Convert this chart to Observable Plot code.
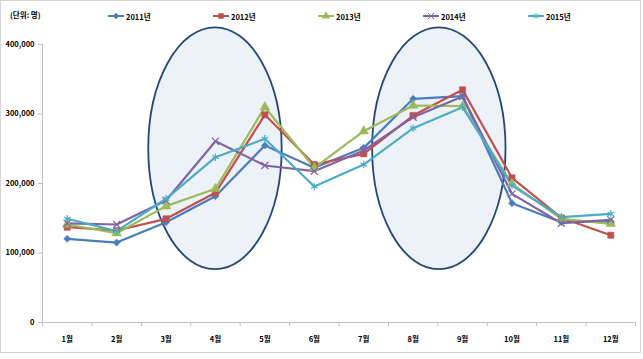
<!DOCTYPE html>
<html>
<head>
<meta charset="utf-8">
<script src="https://cdn.jsdelivr.net/npm/d3@7"></script>
<script src="https://cdn.jsdelivr.net/npm/@observablehq/plot@0.6"></script>
<style>
  html, body { margin: 0; padding: 0; background: #fff; }
  #wrap { position: relative; width: 643px; height: 359px; overflow: hidden; font-family: 'Noto Sans CJK KR', sans-serif; }
  #frame { position: absolute; left: 0; top: 0; width: 639px; height: 351px; border: 1.5px solid #d4d4d4; box-sizing: content-box; pointer-events: none; }
  #chart { position: absolute; left: 0; top: 0; }
  #unit { position: absolute; left: 10px; top: 9px; font-size: 7.5px; font-weight: bold; color: #000; white-space: nowrap; }
  .leg { position: absolute; top: 9px; height: 14px; display: flex; align-items: center; font-size: 7.5px; font-weight: bold; white-space: nowrap; }
  .leg svg { margin-right: 2px; }
  g[aria-label="y-axis tick"] { stroke: #bfbfbf; }
  g[aria-label="y-axis"] .tick line { stroke: #bfbfbf; }
</style>
</head>
<body>
<div id="wrap">
  <div id="chart"></div>
  <div id="unit">(단위: 명)</div>
  <div id="legend"></div>
  <div id="frame"></div>
</div>
<script>
const months = ["1월","2월","3월","4월","5월","6월","7월","8월","9월","10월","11월","12월"];
const years = ["2011년","2012년","2013년","2014년","2015년"];
const v2011 = [120400, 115000, 144300, 181700, 254700, 222600, 251300, 321900, 325600, 171700, 144300, 145300];
const v2012 = [137100, 132400, 149200, 186600, 298800, 227300, 242700, 297800, 334800, 208200, 150600, 125600];
const v2013 = [141000, 128500, 167400, 192400, 309800, 222600, 275300, 312200, 311300, 199600, 149200, 142000];
const v2014 = [142500, 141000, 175500, 260900, 225900, 217700, 247500, 295400, 325200, 185100, 142900, 147800];
const v2015 = [149200, 131400, 178000, 237900, 264300, 195700, 227300, 279600, 309800, 197100, 151500, 156400];
const yTicks = [0, 100000, 200000, 300000, 400000];
// highlighted periods (ellipse annotations): centre month, centre value, half-width in months, half-height in value
const highlightCenters = [4, 8.53];
const highlightValue = 250000;
const highlightHalfMonths = 1.35;
const highlightHalfValue = 174000;

const series = [v2011, v2012, v2013, v2014, v2015];
const colors = ["#4A7DBB", "#C0504D", "#9BBB59", "#8064A2", "#4BACC6"];
const symbols = ["diamond2", "square", "triangle", "times", "asterisk"];
const d3symbols = [d3.symbolDiamond2, d3.symbolSquare, d3.symbolTriangle, d3.symbolTimes, d3.symbolAsterisk];
const filled = [true, true, true, false, false];
const radii = [3.2, 3.5, 3.6, 3.3, 3.5];

const rows = [];
series.forEach((vals, s) => vals.forEach((v, i) => rows.push({m: i + 1, value: v, year: years[s]})));

const ellipseMark = (index, scales) => {
  const g = d3.create("svg:g");
  for (const c of highlightCenters) {
    const cx = scales.x(c), cy = scales.y(highlightValue);
    const rx = Math.abs(scales.x(c + highlightHalfMonths) - cx);
    const ry = Math.abs(scales.y(highlightValue + highlightHalfValue) - cy);
    g.append("ellipse").attr("cx", cx).attr("cy", cy).attr("rx", rx).attr("ry", ry)
      .attr("fill", "#EDF2F9").attr("stroke", "#24477A").attr("stroke-width", 1.8);
  }
  return g.node();
};

const bounds = d3.range(0.5, 13, 1);

const marks = [
  ellipseMark,
  Plot.ruleY([0], {stroke: "#bfbfbf"}),
  Plot.ruleX([0.5], {stroke: "#bfbfbf"}),
  Plot.ruleX(bounds, {y1: 0, y2: 0, insetBottom: -4, stroke: "#bfbfbf"})
];
years.forEach((yr, s) => {
  const data = rows.filter(r => r.year === yr);
  marks.push(Plot.line(data, {x: "m", y: "value", stroke: colors[s], strokeWidth: 2.2}));
});
years.forEach((yr, s) => {
  const data = rows.filter(r => r.year === yr);
  marks.push(Plot.dot(data, {
    x: "m", y: "value", symbol: () => symbols[s], r: radii[s],
    fill: filled[s] ? colors[s] : "none",
    stroke: colors[s], strokeWidth: filled[s] ? 0.5 : 1.2
  }));
});

const chart = Plot.plot({
  width: 643,
  height: 359,
  marginTop: 44,
  marginBottom: 37,
  marginLeft: 42,
  marginRight: 8,
  style: {fontFamily: "'Noto Sans CJK KR', sans-serif", fontSize: "7.5px", fontWeight: "bold", background: "transparent", color: "#000"},
  symbol: {type: "identity"},
  x: {type: "linear", domain: [0.5, 12.5], ticks: d3.range(1, 13), tickFormat: d => months[d - 1], tickSize: 0, tickPadding: 14, label: null},
  y: {domain: [0, 400000], ticks: yTicks, tickFormat: d3.format(","), tickSize: 4, tickPadding: 4, label: null},
  marks
});
document.getElementById("chart").appendChild(chart);

// legend
const legX = [88, 193, 298, 403, 508];
const legend = document.getElementById("legend");
years.forEach((yr, s) => {
  const div = document.createElement("div");
  div.className = "leg";
  div.style.left = (legX[s] + 20) + "px";
  const sv = d3.create("svg").attr("width", 16).attr("height", 10);
  sv.append("line").attr("x1", 0).attr("x2", 16).attr("y1", 5).attr("y2", 5).attr("stroke", colors[s]).attr("stroke-width", 2);
  sv.append("path").attr("d", d3.symbol(d3symbols[s], 24)()).attr("transform", "translate(8,5)")
    .attr("fill", filled[s] ? colors[s] : "none").attr("stroke", colors[s]).attr("stroke-width", filled[s] ? 0.5 : 1);
  div.appendChild(sv.node());
  const t = document.createElement("span");
  t.textContent = yr;
  div.appendChild(t);
  legend.appendChild(div);
});
</script>
</body>
</html>
